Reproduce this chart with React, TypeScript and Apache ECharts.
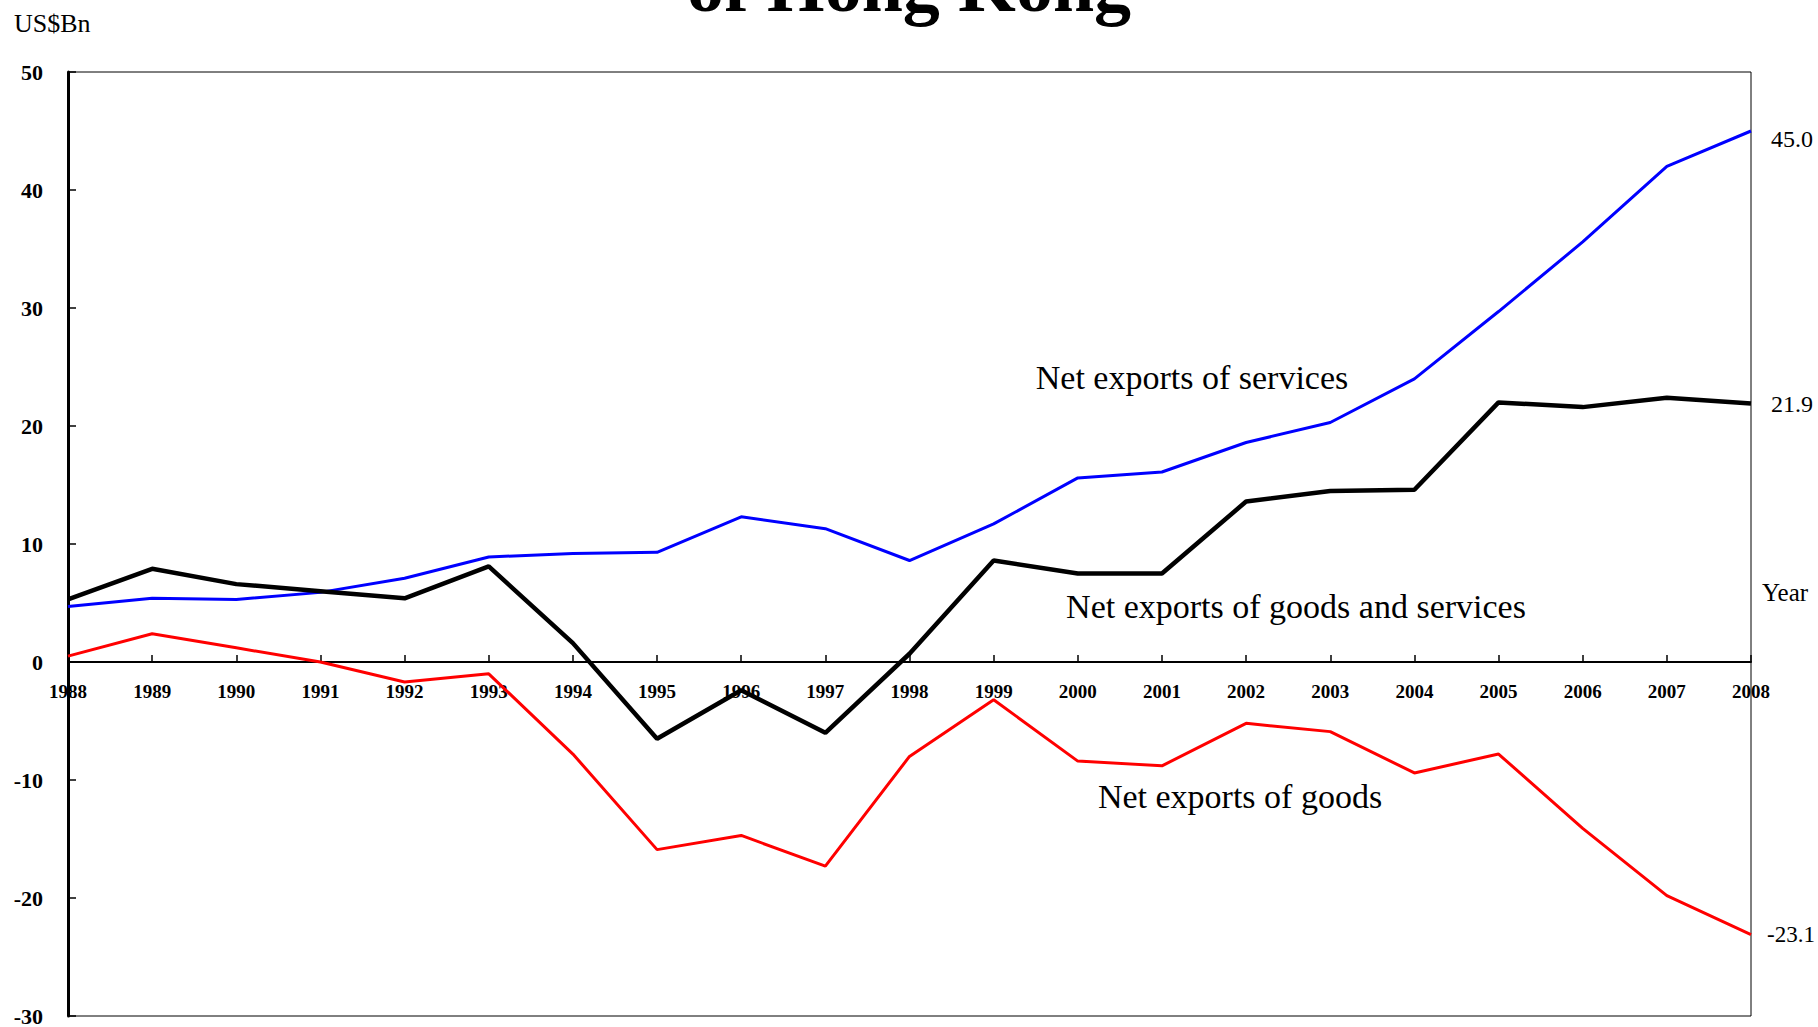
import React, { useEffect, useRef } from "react";
import * as echarts from "echarts";

const years = ["1988","1989","1990","1991","1992","1993","1994","1995","1996","1997","1998","1999","2000","2001","2002","2003","2004","2005","2006","2007","2008"];
const services = [4.7,5.4,5.3,5.9,7.1,8.9,9.2,9.3,12.3,11.3,8.6,11.7,15.6,16.1,18.6,20.3,24.0,29.7,35.6,42.0,45.0];
const goodsAndServices = [5.3,7.9,6.6,6.0,5.4,8.1,1.6,-6.5,-2.4,-6.0,0.7,8.6,7.5,7.5,13.6,14.5,14.6,22.0,21.6,22.4,21.9];
const goods = [0.5,2.4,1.2,0.0,-1.7,-1.0,-7.8,-15.9,-14.7,-17.3,-8.0,-3.2,-8.4,-8.8,-5.2,-5.9,-9.4,-7.8,-14.1,-19.8,-23.1];

const Y_MIN = -30;
const Y_MAX = 50;

const FONT = "'Liberation Serif', 'Times New Roman', serif";

export default function App() {
  const ref = useRef<HTMLDivElement>(null);
  useEffect(() => {
    document.body.style.margin = "0";
    const chart = echarts.init(ref.current!, null, { renderer: "svg" });
    const H = 1027, top = 72, bottom = 11;
    const gridH = H - top - bottom;
    const zeroOffset = -gridH * (0 - Y_MIN) / (Y_MAX - Y_MIN);
    const endLabel = (dy: number, dist: number, size: number) => ({
      show: true,
      distance: dist,
      offset: [0, dy],
      fontFamily: FONT,
      fontSize: size,
      color: "#000",
      formatter: (p: any) => Number(p.value).toFixed(1),
    });
    chart.setOption({
      animation: false,
      backgroundColor: "#fff",
      textStyle: { fontFamily: FONT },
      grid: {
        left: 68, right: 67, top, bottom,
        outerBoundsMode: "none",
        containLabel: false,
        show: true, borderColor: "#000", borderWidth: 1, backgroundColor: "transparent",
      },
      xAxis: {
        type: "category",
        data: years,
        boundaryGap: false,
        offset: zeroOffset,
        axisLine: { onZero: false, lineStyle: { color: "#000", width: 2 } },
        axisTick: { inside: true, length: 7, lineStyle: { color: "#000", width: 1.5 }, alignWithLabel: true },
        axisLabel: { interval: 0, fontFamily: FONT, fontWeight: "bold", fontSize: 19, color: "#000", margin: 20 },
        splitLine: { show: false },
      },
      yAxis: {
        type: "value",
        min: Y_MIN, max: Y_MAX, interval: 10,
        axisLine: { show: true, onZero: false, lineStyle: { color: "#000", width: 3 } },
        axisTick: { show: true, inside: true, length: 8, lineStyle: { color: "#000", width: 1.5 } },
        axisLabel: { fontFamily: FONT, fontWeight: "bold", fontSize: 22, color: "#000", margin: 25 },
        splitLine: { show: false },
      },
      series: [
        {
          name: "Net exports of services", type: "line", data: services, symbol: "none",
          lineStyle: { color: "#0000ff", width: 3 }, itemStyle: { color: "#0000ff" },
          endLabel: endLabel(8, 20, 24), z: 2,
        },
        {
          name: "Net exports of goods and services", type: "line", data: goodsAndServices, symbol: "none",
          lineStyle: { color: "#000", width: 4.5 }, itemStyle: { color: "#000" },
          endLabel: endLabel(0, 20, 24), z: 3,
        },
        {
          name: "Net exports of goods", type: "line", data: goods, symbol: "none",
          lineStyle: { color: "#ff0000", width: 3 }, itemStyle: { color: "#ff0000" },
          endLabel: endLabel(0, 16, 23), z: 2,
        },
      ],
      graphic: [
        { type: "text", left: "center", top: -51, style: { text: "of Hong Kong", fontFamily: FONT, fontWeight: "bold", fontSize: 74, fill: "#000" } },
        { type: "text", x: 14, y: 23, style: { text: "US$Bn", fontFamily: FONT, fontSize: 26, fill: "#000", verticalAlign: "middle" } },
        { type: "text", x: 1762, y: 592, style: { text: "Year", fontFamily: FONT, fontSize: 25, fill: "#000", verticalAlign: "middle" } },
        { type: "text", x: 1192, y: 377, style: { text: "Net exports of services", fontFamily: FONT, fontSize: 34, fill: "#000", align: "center", verticalAlign: "middle" } },
        { type: "text", x: 1296, y: 606, style: { text: "Net exports of goods and services", fontFamily: FONT, fontSize: 34, fill: "#000", align: "center", verticalAlign: "middle" } },
        { type: "text", x: 1240, y: 796, style: { text: "Net exports of goods", fontFamily: FONT, fontSize: 34, fill: "#000", align: "center", verticalAlign: "middle" } },
      ],
    });
    return () => chart.dispose();
  }, []);
  return <div ref={ref} style={{ width: 1818, height: 1027 }} />;
}
